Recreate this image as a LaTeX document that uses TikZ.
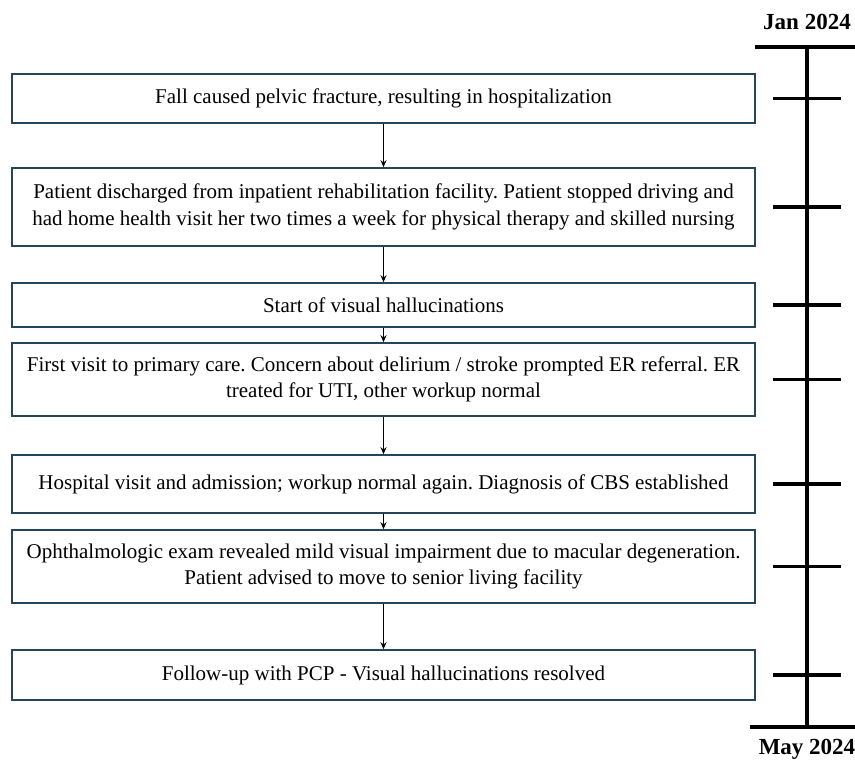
\documentclass[tikz,border=0pt]{standalone}
\usepackage{fontspec}
\setmainfont{Liberation Serif}
\usepackage{tikz}
\usetikzlibrary{arrows.meta,positioning}
\definecolor{boxedge}{HTML}{24465A}
\frenchspacing
\tikzset{
  event/.style={draw=boxedge, line width=1.6pt, fill=white, align=center, minimum width=743pt, inner sep=0pt, font=\fontsize{21}{26.5}\selectfont},
  arrow/.style={-{Stealth[length=7pt,width=6pt]}, line width=1.3pt, draw=black},
  axis/.style={line width=3.2pt, draw=black},
  datelabel/.style={font=\bfseries\fontsize{23}{26}\selectfont}
}

\begin{document}
\begin{tikzpicture}[x=1pt, y=-1pt]
  \useasboundingbox (0,0) rectangle (855,760);

  % events
  \node[event, minimum height=49pt] (fall) at (383.5,98.5) {Fall caused pelvic fracture, resulting in hospitalization};
  \node[event, minimum height=78pt] (discharge) at (383.5,207) {Patient discharged from inpatient rehabilitation facility. Patient stopped driving and\\had home health visit her two times a week for physical therapy and skilled nursing};
  \node[event, minimum height=44pt] (onset) at (383.5,305) {Start of visual hallucinations};
  \node[event, minimum height=73pt] (pcp) at (383.5,379.5) {First visit to primary care. Concern about delirium / stroke prompted ER referral. ER\\treated for UTI, other workup normal};
  \node[event, minimum height=58pt] (admit) at (383.5,484) {Hospital visit and admission; workup normal again. Diagnosis of CBS established};
  \node[event, minimum height=73pt] (ophth) at (383.5,566.5) {Ophthalmologic exam revealed mild visual impairment due to macular degeneration.\\Patient advised to move to senior living facility};
  \node[event, minimum height=50pt] (followup) at (383.5,675) {Follow-up with PCP - Visual hallucinations resolved};

  \draw[arrow] (fall) -- (discharge);
  \draw[arrow] (discharge) -- (onset);
  \draw[arrow] (onset) -- (pcp);
  \draw[arrow] (pcp) -- (admit);
  \draw[arrow] (admit) -- (ophth);
  \draw[arrow] (ophth) -- (followup);

  % timeline
  \coordinate (start) at (807,47);
  \coordinate (end) at (807,727);
  \draw[axis] (start) -- (end);
  \draw[axis] (755,47) -- (855,47);
  \draw[axis] (750,727) -- (855,727);
  \foreach \y in {98.5,207,305,379.5,484,566.5,675}
    \draw[axis] (773,\y) -- (841,\y);
  \node[datelabel] (jan) at (807,22) {Jan 2024};
  \node[datelabel] (may) at (807,749) {May 2024};
\end{tikzpicture}
\end{document}
